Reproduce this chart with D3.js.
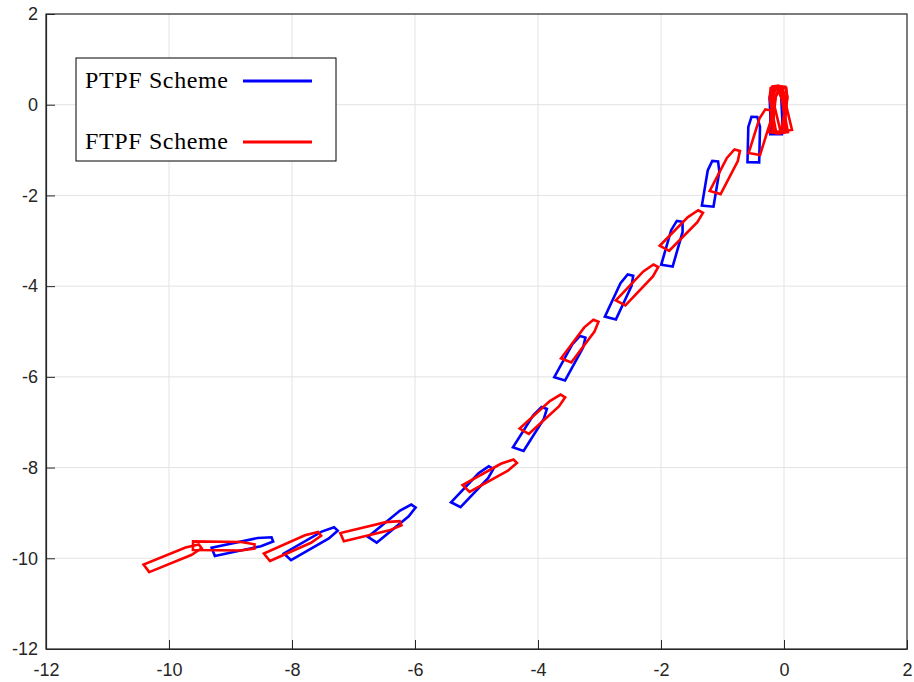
<!DOCTYPE html>
<html>
<head>
<meta charset="utf-8">
<script src="https://cdn.jsdelivr.net/npm/d3@7"></script>
<style>
  body { margin: 0; background: #fff; }
  svg { display: block; }
  .tick text { font-family: "Liberation Sans", Arial, sans-serif; font-size: 18px; fill: #262626; }
  .legend text { font-family: "Liberation Serif", "Times New Roman", serif; font-size: 24px; fill: #000; }
</style>
</head>
<body>
<svg id="chart" width="914" height="682"></svg>
<script>
// axis ticks
const xTicks = [-12, -10, -8, -6, -4, -2, 0, 2];
const yTicks = [-12, -10, -8, -6, -4, -2, 0, 2];

// PTPF scheme: ship centre (x, y) and heading (deg)
const ptpfX = [-8.80, -7.68, -6.36, -5.05, -4.11, -3.46, -2.66, -1.80, -1.18, -0.49, -0.12, -0.13];
const ptpfY = [-9.72, -9.66, -9.22, -8.41, -7.14, -5.58, -4.23, -3.06, -1.74, -0.77, -0.15, -0.12];
const ptpfHeading = [16, 38, 48, 55, 65, 68, 71, 78, 83, 89, 89, 92];

// FTPF scheme
const ftpfX = [-9.93, -9.11, -7.98, -6.71, -4.77, -3.91, -3.30, -2.37, -1.65, -0.94, -0.37, -0.08, -0.06, -0.08, -0.10, -0.10, -0.05];
const ftpfY = [-9.98, -9.73, -9.72, -9.38, -8.16, -6.81, -5.20, -3.96, -2.76, -1.47, -0.60, -0.12, -0.10, -0.10, -0.10, -0.12, -0.08];
const ftpfHeading = [29, -1, 31, 18, 37, 51, 61, 55, 54, 69, 77, 82, 86, 90, 94, 98, 100];

const legendLabels = ["PTPF Scheme", "FTPF Scheme"];
const colors = ["#0000ff", "#ff0000"];

// hull outline in body frame (length 1, beam 0.19)
const L = 1.0, B = 0.19;
const hull = [
  [-L / 2, -B / 2], [0.28 * L, -B / 2], [L / 2, -B / 4],
  [L / 2, B / 4], [0.28 * L, B / 2], [-L / 2, B / 2]
];

const svg = d3.select("#chart");
const margin = { left: 46, right: 7, top: 14, bottom: 33 };
const width = 914 - margin.left - margin.right;
const height = 682 - margin.top - margin.bottom;

const x = d3.scaleLinear().domain([-12, 2]).range([0, width]);
const y = d3.scaleLinear().domain([-12, 2]).range([height, 0]);

const g = svg.append("g").attr("transform", `translate(${margin.left},${margin.top})`);

// grid
g.append("g").selectAll("line").data(xTicks.slice(1, -1)).enter().append("line")
  .attr("x1", d => x(d)).attr("x2", d => x(d))
  .attr("y1", 0).attr("y2", height)
  .attr("stroke", "#e3e3e3").attr("stroke-width", 1);
g.append("g").selectAll("line").data(yTicks.slice(1, -1)).enter().append("line")
  .attr("y1", d => y(d)).attr("y2", d => y(d))
  .attr("x1", 0).attr("x2", width)
  .attr("stroke", "#e3e3e3").attr("stroke-width", 1);

// ships
function shipPath(cx, cy, deg) {
  const h = deg * Math.PI / 180;
  const pts = hull.map(([bx, by]) => [
    x(cx + bx * Math.cos(h) - by * Math.sin(h)),
    y(cy + bx * Math.sin(h) + by * Math.cos(h))
  ]);
  return "M" + pts.map(p => p.join(",")).join("L") + "Z";
}

function drawShips(xs, ys, hs, color) {
  g.append("g").selectAll("path")
    .data(xs.map((d, i) => ({ x: d, y: ys[i], h: hs[i] })))
    .enter().append("path")
    .attr("d", d => shipPath(d.x, d.y, d.h))
    .attr("fill", "none")
    .attr("stroke", color)
    .attr("stroke-width", 2.6)
    .attr("stroke-linejoin", "miter");
}

drawShips(ptpfX, ptpfY, ptpfHeading, colors[0]);
drawShips(ftpfX, ftpfY, ftpfHeading, colors[1]);

// box
g.append("rect").attr("width", width).attr("height", height)
  .attr("fill", "none").attr("stroke", "#262626").attr("stroke-width", 1.2);

// axes (plain hyphen minus like the original)
const fmt = d => String(d);
const xAxis = g.append("g").attr("transform", `translate(0,${height})`)
  .call(d3.axisBottom(x).tickValues(xTicks).tickFormat(fmt).tickSizeInner(-9).tickSizeOuter(0).tickPadding(14));
const yAxis = g.append("g")
  .call(d3.axisLeft(y).tickValues(yTicks).tickFormat(fmt).tickSizeInner(-9).tickSizeOuter(0).tickPadding(8));
[xAxis, yAxis].forEach(a => {
  a.select(".domain").attr("stroke", "#262626").attr("stroke-width", 1.2);
  a.selectAll(".tick line").attr("stroke", "#262626");
});

// legend
const legend = svg.append("g").attr("class", "legend");
legend.append("rect")
  .attr("x", 76).attr("y", 58).attr("width", 260).attr("height", 103)
  .attr("fill", "#fff").attr("stroke", "#000").attr("stroke-width", 1);
legendLabels.forEach((label, i) => {
  const cy = 81 + i * 61;
  legend.append("text").attr("x", 85).attr("y", cy + 6.5)
    .attr("textLength", 143).attr("lengthAdjust", "spacing").text(label);
  legend.append("line")
    .attr("x1", 243).attr("x2", 312).attr("y1", cy).attr("y2", cy)
    .attr("stroke", colors[i]).attr("stroke-width", 2.8);
});
</script>
</body>
</html>
